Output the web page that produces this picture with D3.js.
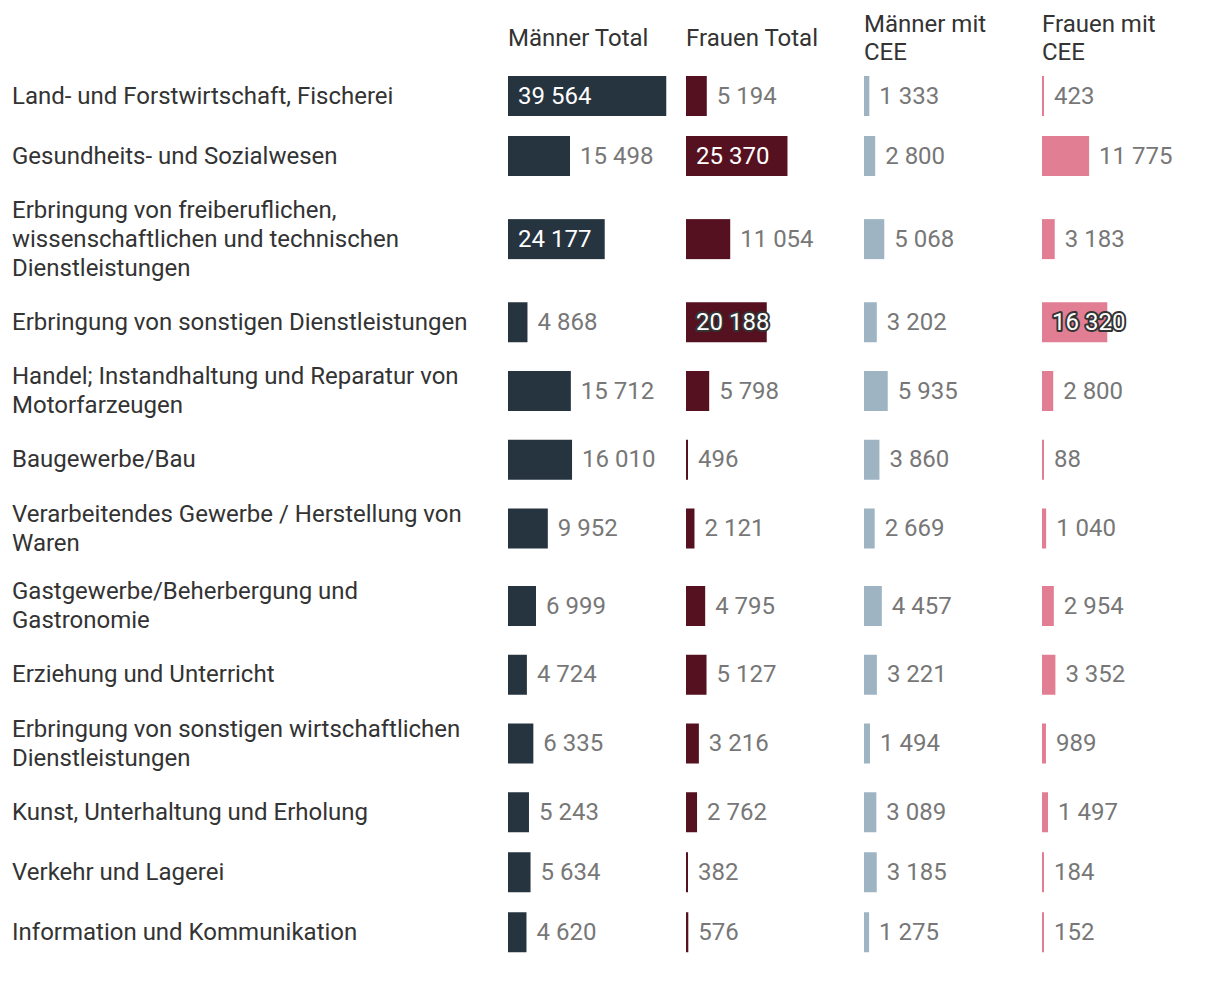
<!DOCTYPE html>
<html>
<head>
<meta charset="utf-8">
<script src="https://cdn.jsdelivr.net/npm/d3@7"></script>
<style>
  html, body { margin: 0; padding: 0; background: #fff; }
  svg { display: block; font-family: Roboto, "Noto Sans", sans-serif; }
</style>
</head>
<body>
<svg id="chart" width="1220" height="996"></svg>
<script>
// ---- data ----
const categories = [
  "Land- und Forstwirtschaft, Fischerei",
  "Gesundheits- und Sozialwesen",
  "Erbringung von freiberuflichen,\nwissenschaftlichen und technischen\nDienstleistungen",
  "Erbringung von sonstigen Dienstleistungen",
  "Handel; Instandhaltung und Reparatur von\nMotorfarzeugen",
  "Baugewerbe/Bau",
  "Verarbeitendes Gewerbe / Herstellung von\nWaren",
  "Gastgewerbe/Beherbergung und\nGastronomie",
  "Erziehung und Unterricht",
  "Erbringung von sonstigen wirtschaftlichen\nDienstleistungen",
  "Kunst, Unterhaltung und Erholung",
  "Verkehr und Lagerei",
  "Information und Kommunikation"
];
const seriesNames = ["Männer Total", "Frauen Total", "Männer mit\nCEE", "Frauen mit\nCEE"];
const maennerTotal = [39564, 15498, 24177, 4868, 15712, 16010, 9952, 6999, 4724, 6335, 5243, 5634, 4620];
const frauenTotal  = [5194, 25370, 11054, 20188, 5798, 496, 2121, 4795, 5127, 3216, 2762, 382, 576];
const maennerCEE   = [1333, 2800, 5068, 3202, 5935, 3860, 2669, 4457, 3221, 1494, 3089, 3185, 1275];
const frauenCEE    = [423, 11775, 3183, 16320, 2800, 88, 1040, 2954, 3352, 989, 1497, 184, 152];
const seriesValues = [maennerTotal, frauenTotal, maennerCEE, frauenCEE];
const colors = ["#263440", "#55111f", "#9fb4c3", "#e27e93"];

// ---- layout ----
const svg = d3.select("#chart");
const fontSize = 24;
const lineH = 28.75;
const labelX = 12;
const colStart = 508, colStep = 178, colW = 160;
const barH = 40, rowPad = 20;
const firstRowTop = 66;
const textDark = "#333333", valueGray = "#777777";
const dyMid = "0.32em";

const x = d3.scaleLinear().domain([0, 40000]).range([0, colW]);
const fmt = v => d3.format(",")(v).replace(/,/g, " ");

// row positions
const lines = categories.map(c => c.split("\n"));
const rowH = lines.map(l => Math.max(barH, l.length * lineH) + rowPad);
const rowTop = [];
let acc = firstRowTop;
rowH.forEach(h => { rowTop.push(acc); acc += h; });
const rowCenter = rowTop.map((t, i) => t + rowH[i] / 2);

// headers
seriesNames.forEach((name, j) => {
  const ls = name.split("\n");
  const cy = 38;
  const t = svg.append("text")
    .attr("x", colStart + j * colStep)
    .attr("font-size", fontSize)
    .attr("fill", textDark);
  ls.forEach((l, k) => {
    t.append("tspan")
      .attr("x", colStart + j * colStep)
      .attr("y", cy + (k - (ls.length - 1) / 2) * 28)
      .attr("dy", dyMid)
      .text(l);
  });
});

// category labels
categories.forEach((c, i) => {
  const ls = lines[i];
  const t = svg.append("text")
    .attr("font-size", fontSize)
    .attr("fill", textDark);
  ls.forEach((l, k) => {
    t.append("tspan")
      .attr("x", labelX)
      .attr("y", rowCenter[i] + (k - (ls.length - 1) / 2) * lineH)
      .attr("dy", dyMid)
      .text(l);
  });
});

// bars + values
seriesValues.forEach((vals, j) => {
  const x0 = colStart + j * colStep;
  const g = svg.append("g").attr("transform", `translate(${x0},0)`);
  g.selectAll("rect").data(vals).join("rect")
    .attr("x", 0)
    .attr("y", (d, i) => rowCenter[i] - barH / 2)
    .attr("width", d => Math.max(2, x(d)))
    .attr("height", barH)
    .attr("fill", colors[j]);

  vals.forEach((v, i) => {
    const w = Math.max(2, x(v));
    const inside = w > 64.5;
    const t = g.append("text")
      .attr("y", rowCenter[i])
      .attr("dy", dyMid)
      .attr("font-size", fontSize)
      .text(fmt(v));
    if (inside) {
      t.attr("x", 10).attr("fill", "#ffffff");
      const tw = t.node().getComputedTextLength();
      if (tw + 10 > w - 2) {
        t.attr("stroke", "#333333").attr("stroke-width", 4)
         .attr("stroke-linejoin", "round").attr("paint-order", "stroke");
      }
    } else {
      t.attr("x", w + 10).attr("fill", valueGray);
    }
  });
});
</script>
</body>
</html>
